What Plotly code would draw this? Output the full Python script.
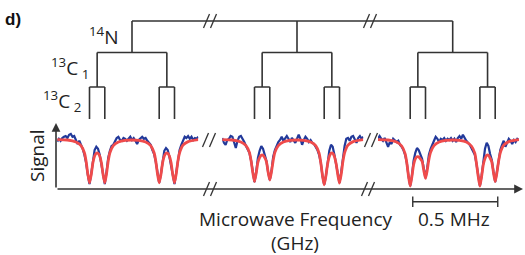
import plotly.graph_objects as go

# ---------------- data ----------------
# microwave frequency offset from each 14N hyperfine line (MHz)
freq_offset_mhz = [
    -0.44, -0.43, -0.42, -0.41, -0.40, -0.39, -0.38, -0.37, -0.36, -0.35,
    -0.34, -0.33, -0.32, -0.31, -0.30, -0.29, -0.28, -0.27, -0.26, -0.25,
    -0.24, -0.23, -0.22, -0.21, -0.20, -0.19, -0.18, -0.17, -0.16, -0.15,
    -0.14, -0.13, -0.12, -0.11, -0.10, -0.09, -0.08, -0.07, -0.06, -0.05,
    -0.04, -0.03, -0.02, -0.01, 0.00, 0.01, 0.02, 0.03, 0.04, 0.05,
    0.06, 0.07, 0.08, 0.09, 0.10, 0.11, 0.12, 0.13, 0.14, 0.15,
    0.16, 0.17, 0.18, 0.19, 0.20, 0.21, 0.22, 0.23, 0.24, 0.25,
    0.26, 0.27, 0.28, 0.29, 0.30, 0.31, 0.32, 0.33, 0.34, 0.35,
    0.36, 0.37, 0.38, 0.39,
]

# measured signal, one list per 14N line (low, middle, high frequency)
signal_low = [
    0.996, 1.003, 0.998, 1.005, 1.008, 1.010, 1.005, 1.013, 1.015, 1.008,
    1.010, 0.998, 0.990, 0.998, 0.988, 0.978, 0.963, 0.943, 0.913, 0.890,
    0.915, 0.950, 0.975, 0.983, 0.978, 0.963, 0.940, 0.910, 0.890, 0.920,
    0.955, 0.973, 0.985, 0.988, 0.998, 1.005, 1.008, 1.000, 0.998, 1.005,
    1.003, 0.998, 1.003, 1.008, 1.000, 1.005, 0.998, 0.990, 1.000, 1.003,
    1.008, 1.003, 1.005, 0.998, 0.993, 0.988, 0.975, 0.965, 0.945, 0.913,
    0.893, 0.915, 0.950, 0.973, 0.980, 0.975, 0.958, 0.938, 0.910, 0.890,
    0.918, 0.953, 0.975, 0.988, 0.998, 1.008, 1.005, 1.010, 1.003, 1.008,
    1.000, 1.005, 1.003, 1.008,
]
signal_mid = [
    1.005, 0.993, 0.988, 1.000, 1.003, 1.010, 1.008, 0.990, 0.980, 0.998,
    1.008, 1.010, 1.003, 0.995, 0.985, 0.978, 0.968, 0.948, 0.918, 0.895,
    0.920, 0.955, 0.973, 0.985, 0.978, 0.960, 0.948, 0.920, 0.900, 0.923,
    0.958, 0.975, 0.985, 0.995, 1.000, 1.008, 0.998, 1.005, 1.010, 1.003,
    0.995, 1.005, 1.000, 0.993, 1.003, 1.013, 1.003, 0.988, 1.000, 1.008,
    1.003, 0.995, 1.000, 0.993, 0.990, 0.983, 0.975, 0.963, 0.943, 0.910,
    0.888, 0.910, 0.945, 0.973, 0.988, 0.983, 0.963, 0.940, 0.913, 0.893,
    0.920, 0.960, 0.985, 1.003, 1.005, 0.998, 1.008, 1.010, 1.000, 0.993,
    1.005, 1.010, 1.003, 1.008,
]
signal_high = [
    1.003, 1.010, 1.003, 0.998, 1.005, 0.993, 0.983, 0.995, 0.990, 1.003,
    1.000, 0.995, 0.998, 0.988, 0.983, 0.975, 0.963, 0.943, 0.910, 0.885,
    0.910, 0.948, 0.968, 0.980, 0.975, 0.963, 0.953, 0.928, 0.905, 0.930,
    0.963, 0.978, 0.990, 0.998, 1.008, 1.003, 0.995, 1.003, 1.000, 1.005,
    0.998, 1.003, 1.000, 1.005, 0.998, 1.003, 0.995, 1.005, 1.010, 1.003,
    1.013, 1.005, 0.998, 0.993, 0.988, 0.980, 0.973, 0.963, 0.940, 0.910,
    0.885, 0.910, 0.950, 0.978, 0.993, 0.985, 0.965, 0.950, 0.920, 0.895,
    0.920, 0.955, 0.975, 0.988, 0.998, 0.983, 0.995, 1.003, 0.998, 0.990,
    1.000, 0.995, 1.003, 1.000,
]

# fitted curves
fit_offset_mhz = [
    -0.44, -0.38, -0.33, -0.30, -0.28,
    -0.27, -0.26, -0.25, -0.24, -0.23, -0.22, -0.21, -0.20, -0.19, -0.18,
    -0.17, -0.16, -0.15, -0.14, -0.13,
    -0.11, -0.08, -0.04, 0.00, 0.04, 0.08, 0.11,
    0.13, 0.14, 0.15, 0.16, 0.17, 0.18, 0.19, 0.20, 0.21, 0.22,
    0.23, 0.24, 0.25, 0.26, 0.27, 0.28,
    0.30, 0.33, 0.39,
]
fit_low = [
    1.001, 1.000, 0.995, 0.986, 0.968,
    0.947, 0.915, 0.893, 0.913, 0.943, 0.960, 0.967, 0.967, 0.960, 0.943,
    0.913, 0.893, 0.915, 0.947, 0.968,
    0.986, 0.995, 0.999, 1.000, 0.999, 0.995, 0.986,
    0.968, 0.947, 0.915, 0.893, 0.913, 0.943, 0.960, 0.967, 0.967, 0.960,
    0.943, 0.913, 0.893, 0.915, 0.947, 0.968,
    0.987, 0.996, 1.001,
]
fit_mid = [
    1.001, 1.000, 0.995, 0.986, 0.969,
    0.948, 0.918, 0.896, 0.917, 0.944, 0.956, 0.962, 0.962, 0.956, 0.946,
    0.920, 0.900, 0.921, 0.949, 0.969,
    0.986, 0.995, 0.999, 1.000, 0.999, 0.995, 0.986,
    0.967, 0.943, 0.911, 0.888, 0.910, 0.940, 0.959, 0.967, 0.967, 0.959,
    0.941, 0.913, 0.892, 0.914, 0.946, 0.968,
    0.987, 0.996, 1.001,
]
fit_high = [
    1.001, 1.000, 0.995, 0.985, 0.966,
    0.943, 0.909, 0.885, 0.909, 0.938, 0.953, 0.958, 0.958, 0.953, 0.947,
    0.924, 0.904, 0.924, 0.951, 0.969,
    0.986, 0.995, 0.999, 1.000, 0.999, 0.995, 0.985,
    0.967, 0.941, 0.909, 0.885, 0.909, 0.938, 0.954, 0.962, 0.962, 0.955,
    0.945, 0.918, 0.896, 0.918, 0.947, 0.968,
    0.987, 0.996, 1.001,
]

# hyperfine level diagram (MHz)
n14_line = 0.0
c13_1_splitting = 0.41
c13_2_splitting = 0.09
scale_bar_mhz = 0.5

# ---------------- layout helpers ----------------
W, H = 525, 255
def px(x):
    return x / W
def py(y):
    return 1 - y / H

seg_px = [(57.2, 198.3), (222.2, 363.3), (377.9, 519.0)]
x_range = [-0.44, 0.39]
y_range = [0.8775, 1.04]
axes = ["x", "x2", "x3"]

BLUE = "#22399a"
RED = "#ef4b4b"
INK = "#333333"
FONT = "Open Sans"

fig = go.Figure()
signals = [signal_low, signal_mid, signal_high]
fits = [fit_low, fit_mid, fit_high]
for k in range(3):
    fig.add_trace(go.Scatter(x=freq_offset_mhz, y=signals[k], mode="lines",
                             line=dict(color=BLUE, width=2.2),
                             xaxis=axes[k], yaxis="y", hoverinfo="skip"))
    fig.add_trace(go.Scatter(x=fit_offset_mhz, y=fits[k], mode="lines",
                             line=dict(color=RED, width=2.8, shape="spline", smoothing=0.6),
                             xaxis=axes[k], yaxis="y", hoverinfo="skip"))

layout_axes = {}
for k in range(3):
    name = "xaxis" if k == 0 else f"xaxis{k+1}"
    layout_axes[name] = dict(domain=[px(seg_px[k][0]), px(seg_px[k][1])], range=x_range,
                             visible=False, anchor="y", fixedrange=True)
layout_axes["yaxis"] = dict(domain=[py(189), py(124)], range=y_range, visible=False,
                            anchor="x", fixedrange=True)

shapes = []
def seg_line(x0, y0, x1, y1, xref="paper", width=1.6, color=INK):
    shapes.append(dict(type="line", xref=xref, yref="paper",
                       x0=x0 if xref != "paper" else px(x0),
                       x1=x1 if xref != "paper" else px(x1),
                       y0=py(y0), y1=py(y1), line=dict(color=color, width=width)))

# hyperfine tree for each 14N line
top_y, c1_y, c2_y, bot_y = 21, 52.5, 87, 119
h1 = c13_1_splitting / 2
h2 = c13_2_splitting / 2
for k in range(3):
    ax = axes[k]
    seg_line(n14_line, top_y, n14_line, c1_y, ax)
    seg_line(n14_line - h1, c1_y, n14_line + h1, c1_y, ax)
    for s in (n14_line - h1, n14_line + h1):
        seg_line(s, c1_y, s, c2_y, ax)
        seg_line(s - h2, c2_y, s + h2, c2_y, ax)
        seg_line(s - h2, c2_y, s - h2, bot_y, ax)
        seg_line(s + h2, c2_y, s + h2, bot_y, ax)

def to_paper_x(k, v):
    d0, d1 = px(seg_px[k][0]), px(seg_px[k][1])
    return d0 + (v - x_range[0]) / (x_range[1] - x_range[0]) * (d1 - d0)

# top connecting line
shapes.append(dict(type="line", xref="paper", yref="paper",
                   x0=to_paper_x(0, n14_line), x1=to_paper_x(2, n14_line),
                   y0=py(top_y), y1=py(top_y), line=dict(color=INK, width=1.6)))

def slash_pair(cx, cy, width=1.3):
    for dx in (-3.5, 3.5):
        seg_line(cx + dx - 3, cy + 7, cx + dx + 3, cy - 7, width=width)

slash_pair(210, top_y)
slash_pair(370, top_y)
slash_pair(209, 140)
slash_pair(371, 140)
slash_pair(210, 189)
slash_pair(368, 189)

# scale bar (0.5 MHz) on the high-frequency segment
sb0, sb1 = -0.235, -0.235 + scale_bar_mhz
seg_line(sb0, 201.7, sb1, 201.7, "x3", width=1.4)
seg_line(sb0, 196.5, sb0, 207, "x3", width=1.4)
seg_line(sb1, 196.5, sb1, 207, "x3", width=1.4)

annotations = [
    # axes with arrow heads
    dict(x=px(56), y=py(123), xref="paper", yref="paper", ax=0, ay=66,
         showarrow=True, arrowhead=2, arrowsize=1.1, arrowwidth=1.6, arrowcolor=INK, text=""),
    dict(x=px(523), y=py(189), xref="paper", yref="paper", ax=-467, ay=0,
         showarrow=True, arrowhead=2, arrowsize=1.1, arrowwidth=1.6, arrowcolor=INK, text=""),
    dict(x=px(3), y=py(20), xref="paper", yref="paper", text="<b>d)</b>", showarrow=False,
         xanchor="left", yanchor="middle", font=dict(family="Liberation Sans", size=17, color="#111")),
    dict(x=px(121), y=py(36), xref="paper", yref="paper", text="<sup>14</sup>N", showarrow=False,
         xanchor="right", yanchor="middle", font=dict(family=FONT, size=19, color="#222")),
    dict(x=px(91), y=py(68), xref="paper", yref="paper", text="<sup>13</sup>C<sub> 1</sub>",
         showarrow=False, xanchor="right", yanchor="middle", font=dict(family=FONT, size=19, color="#222")),
    dict(x=px(83), y=py(101), xref="paper", yref="paper", text="<sup>13</sup>C<sub> 2</sub>",
         showarrow=False, xanchor="right", yanchor="middle", font=dict(family=FONT, size=19, color="#222")),
    dict(x=px(37), y=py(156), xref="paper", yref="paper", text="Signal", textangle=-90,
         showarrow=False, xanchor="center", yanchor="middle", font=dict(family=FONT, size=19, color="#222")),
    dict(x=px(295), y=py(219), xref="paper", yref="paper", text="Microwave Frequency",
         showarrow=False, xanchor="center", yanchor="middle", font=dict(family=FONT, size=19, color="#222")),
    dict(x=px(295), y=py(243), xref="paper", yref="paper", text="(GHz)",
         showarrow=False, xanchor="center", yanchor="middle", font=dict(family=FONT, size=19, color="#222")),
    dict(x=px(453.5), y=py(219), xref="paper", yref="paper", text="0.5 MHz",
         showarrow=False, xanchor="center", yanchor="middle", font=dict(family=FONT, size=19, color="#222")),
]

fig.update_layout(width=W, height=H, margin=dict(l=0, r=0, t=0, b=0),
                  paper_bgcolor="white", plot_bgcolor="white", showlegend=False,
                  shapes=shapes, annotations=annotations, **layout_axes)

fig.write_html("out.html", config={"displayModeBar": False, "staticPlot": True},
               post_script="document.body.style.margin='0';document.body.style.padding='0';")
